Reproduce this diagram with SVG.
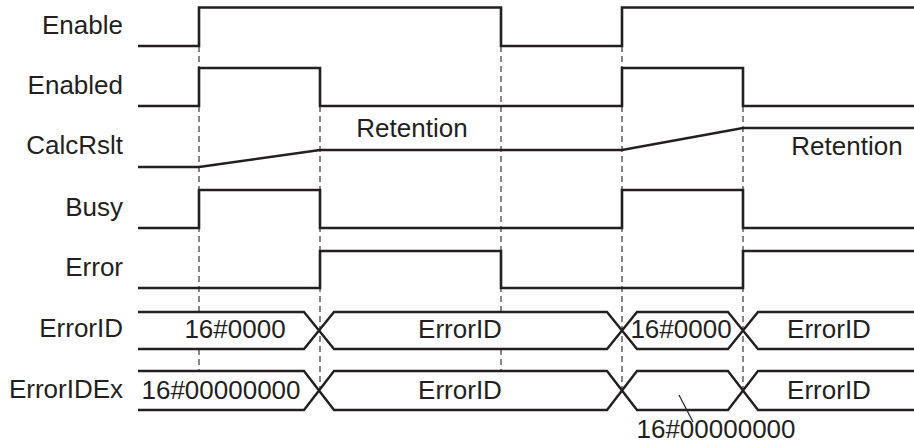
<svg xmlns="http://www.w3.org/2000/svg" width="914" height="443" viewBox="0 0 914 443">
<style>
text{font-family:"Liberation Sans",Arial,sans-serif;font-size:26px;fill:#231f20}
.lbl{text-anchor:end}
.c{text-anchor:middle}
.sig{fill:none;stroke:#231f20;stroke-width:2.6;stroke-linejoin:miter}
.bus{fill:none;stroke:#231f20;stroke-width:2.4}
.dash{fill:none;stroke:#555;stroke-width:1.4;stroke-dasharray:6,4}
.lead{fill:none;stroke:#231f20;stroke-width:1.2}
</style>
<rect width="914" height="443" fill="#fff"/>
<g id="guides">
<path class="dash" d="M199,46V312 M199,349V370 M320,106V390 M501,46V312 M501,349V370 M622,46V390 M743,106V390"/>
</g>
<g id="labels">
<text class="lbl" x="123" y="34">Enable</text>
<text class="lbl" x="123" y="94">Enabled</text>
<text class="lbl" x="123" y="154">CalcRslt</text>
<text class="lbl" x="123" y="216">Busy</text>
<text class="lbl" x="123" y="276">Error</text>
<text class="lbl" x="123" y="337">ErrorID</text>
<text class="lbl" x="123" y="398">ErrorIDEx</text>
</g>
<g id="Enable"><path class="sig" d="M138,46H199V7.5H501V46H622V7.5H914"/></g>
<g id="Enabled"><path class="sig" d="M138,106H199V68H320V106H622V68H743V106H914"/></g>
<g id="CalcRslt">
<path class="sig" d="M138,167H199L320,150H622L743,128H914"/>
<text class="c" x="412" y="137">Retention</text>
<text class="c" x="847" y="155">Retention</text>
</g>
<g id="Busy"><path class="sig" d="M138,228H199V190H320V228H622V190H743V228H914"/></g>
<g id="Error"><path class="sig" d="M138,288H320V251H501V288H743V251H914"/></g>
<g id="ErrorID">
<path class="bus" d="M138,312H304L334,349H607L637,312H728L758,349H914 M138,349H304L334,312H607L637,349H728L758,312H914"/>
<text class="c" x="235" y="338">16#0000</text>
<text class="c" x="460" y="338">ErrorID</text>
<text class="c" x="681" y="338">16#0000</text>
<text class="c" x="829" y="338">ErrorID</text>
</g>
<g id="ErrorIDEx">
<path class="bus" d="M138,371H304L334,410H607L637,371H728L758,410H914 M138,410H304L334,371H607L637,410H728L758,371H914"/>
<text class="c" x="221" y="399">16#00000000</text>
<text class="c" x="460" y="399">ErrorID</text>
<text class="c" x="829" y="399">ErrorID</text>
<path class="lead" d="M679,395L693,422"/>
<text class="c" x="716" y="438">16#00000000</text>
</g>
</svg>
